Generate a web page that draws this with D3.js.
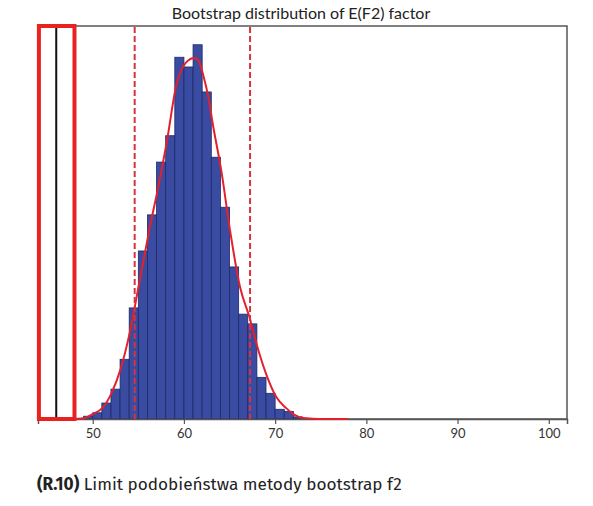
<!DOCTYPE html>
<html><head><meta charset="utf-8">
<script src="https://cdn.jsdelivr.net/npm/d3@7"></script>
<style>
body{margin:0;background:#fff;}
svg{display:block;}
</style></head>
<body>
<svg id="chart" width="593" height="506"></svg>
<script>
// Histogram bins (lower edge of each 1-unit bin) and counts
const binStarts = [48,49,50,51,52,53,54,55,56,57,58,59,60,61,62,63,64,65,66,67,68,69,70,71,72,73];
const counts    = [1,4,9,23,43,86,160,242,294,370,408,521,507,539,471,377,305,219,151,137,60,37,14,11,3,1];
// Fitted density curve (x value, scaled to count units)
const curveX = [44,48.1,49.1,50,51.07,52.05,53.08,54.12,55.1,56.26,57.18,58.16,59.12,60.19,61.13,61.57,62.12,62.67,63.15,64.14,65.05,66.15,67.18,68.16,69.15,70.11,71.18,72.12,73.1,74.9,78];
const curveY = [0,0,1.5,7,16,37,73,128,196,276,334,402,478,513,520,517,495,464,426,354,272,190,147,99,60,32,16,6,1.5,0,0];
// Confidence limits (dashed) and highlighted limit
const ciLimits = [54.6, 67.25];
const limitValue = 46.0;
const limitBox = [44.1, 48.0];
const xTicks = [50,60,70,80,90,100];
const xDomain = [44, 102];
const yMax = 566;
const title = "Bootstrap distribution of E(F2) factor";

const svg = d3.select("#chart");
const mLeft = 38, mRight = 567, mTop = 26, mBottom = 419;
const x = d3.scaleLinear().domain(xDomain).range([mLeft, mRight]);
const y = d3.scaleLinear().domain([0, yMax]).range([mBottom, mTop]);

// frame
svg.append("rect").attr("x", mLeft).attr("y", mTop).attr("width", mRight-mLeft).attr("height", mBottom-mTop)
  .attr("fill", "none").attr("stroke", "#555").attr("stroke-width", 1.5);

// bars
svg.append("g").selectAll("rect").data(binStarts).join("rect")
  .attr("x", d => x(d))
  .attr("width", d => x(d+1) - x(d))
  .attr("y", (d,i) => y(counts[i]))
  .attr("height", (d,i) => y(0) - y(counts[i]))
  .attr("fill", "#3a4ba2")
  .attr("stroke", "#1e2868")
  .attr("stroke-width", 0.8);

// x axis
const xAxis = d3.axisBottom(x).tickValues(xTicks).tickSize(5).tickPadding(5);
const ax = svg.append("g").attr("transform", `translate(0,${mBottom})`).call(xAxis);
ax.select(".domain").attr("stroke", "#555").attr("stroke-width", 1.5);
ax.selectAll(".tick line").attr("stroke", "#555").attr("stroke-width", 1.2);
ax.selectAll(".tick text").attr("font-family", "Lato, sans-serif").attr("font-size", 13).attr("fill", "#333");

// density curve
const line = d3.line().x((d,i) => x(curveX[i])).y((d,i) => y(curveY[i])).curve(d3.curveMonotoneX);
svg.append("path").datum(curveX).attr("d", line)
  .attr("fill", "none").attr("stroke", "#e3212d").attr("stroke-width", 2);

// dashed CI lines
svg.append("g").selectAll("line").data(ciLimits).join("line")
  .attr("x1", d => x(d)).attr("x2", d => x(d))
  .attr("y1", mTop + 1).attr("y2", mBottom)
  .attr("stroke", "#d8323f").attr("stroke-width", 2).attr("stroke-dasharray", "6,3");

// highlighted limit
svg.append("line").attr("x1", x(limitValue)).attr("x2", x(limitValue))
  .attr("y1", mTop).attr("y2", mBottom).attr("stroke", "#111").attr("stroke-width", 2);
svg.append("rect").attr("x", x(limitBox[0])).attr("y", mTop)
  .attr("width", x(limitBox[1]) - x(limitBox[0])).attr("height", mBottom - mTop)
  .attr("fill", "none").attr("stroke", "#e8231f").attr("stroke-width", 4);

// title
svg.append("text").attr("x", 301).attr("y", 19).attr("text-anchor", "middle")
  .attr("font-family", "Lato, sans-serif").attr("font-size", 16).attr("fill", "#222")
  .text(title);

// caption
const cap = svg.append("text").attr("x", 37).attr("y", 490)
  .attr("font-family", "'Fira Sans', 'Noto Sans', sans-serif").attr("font-size", 17.2).attr("fill", "#222");
cap.append("tspan").attr("font-weight", "bold").text("(R.10)");
cap.append("tspan").text(" Limit podobieństwa metody bootstrap f2");
</script>
</body></html>
